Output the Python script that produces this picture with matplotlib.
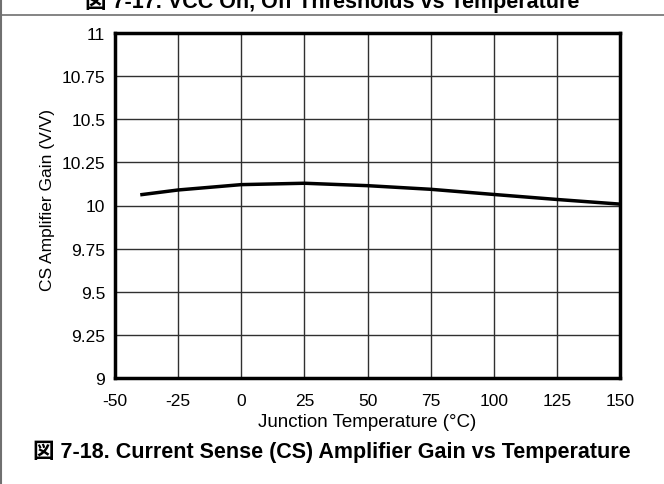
import matplotlib
matplotlib.use("Agg")
import matplotlib.pyplot as plt
from matplotlib.lines import Line2D

plt.rcParams['font.family'] = ['Liberation Sans', 'Noto Sans CJK JP']
plt.rcParams['axes.unicode_minus'] = False

# values
temp = [-40, -25, 0, 25, 50, 75, 100, 125, 150]
gain = [10.062, 10.090, 10.121, 10.129, 10.115, 10.094, 10.064, 10.035, 10.008]

x_ticks = [-50, -25, 0, 25, 50, 75, 100, 125, 150]
y_ticks = [9, 9.25, 9.5, 9.75, 10, 10.25, 10.5, 10.75, 11]
y_labels = ["9", "9.25", "9.5", "9.75", "10", "10.25", "10.5", "10.75", "11"]

title = "図 7-18. Current Sense (CS) Amplifier Gain vs Temperature"
prev_title = "図 7-17. VCC On, Off Thresholds vs Temperature"

W, H = 664, 485
fig = plt.figure(figsize=(W / 100, H / 100), dpi=100)
ax = fig.add_axes([115 / W, 1 - 379 / H, (620 - 115) / W, (379 - 34) / H])

ax.plot(temp, gain, color="black", linewidth=2.5, solid_capstyle="butt")

ax.set_xlim(-50, 150)
ax.set_ylim(9, 11)
ax.set_xticks(x_ticks)
ax.set_yticks(y_ticks)
ax.set_yticklabels(y_labels)
ax.tick_params(length=0, labelsize=12.5, colors="black")
ax.tick_params(axis="x", pad=11)
ax.tick_params(axis="y", pad=7)
ax.grid(True, color="#303030", linewidth=1)
for s in ax.spines.values():
    s.set_linewidth(2.5)
    s.set_color("black")

ax.set_xlabel("Junction Temperature (°C)", fontsize=13.5)
ax.xaxis.set_label_coords(0.5, -(427 - 379) / 345)
ax.xaxis.label.set_va("baseline")
ax.set_ylabel("CS Amplifier Gain (V/V)", fontsize=12.5)
ax.yaxis.set_label_coords((47.5 - 115) / 505, (379 - 200) / 345)
ax.yaxis.label.set_va("center")

# page frame bits and the cut-off caption above
fig.add_artist(Line2D([0, 1], [1 - 15.5 / H, 1 - 15.5 / H], color="#707070", linewidth=1.2))
fig.add_artist(Line2D([1 / W, 1 / W], [0, 1], color="#707070", linewidth=1.5))
fig.text(332 / W, 1 - 8 / H, prev_title, fontsize=15.5, fontweight="bold",
         ha="center", va="baseline")

fig.text(332 / W, 1 - 458 / H, title, fontsize=15.5, fontweight="bold",
         ha="center", va="baseline")

fig.savefig("out.png", dpi=100)
